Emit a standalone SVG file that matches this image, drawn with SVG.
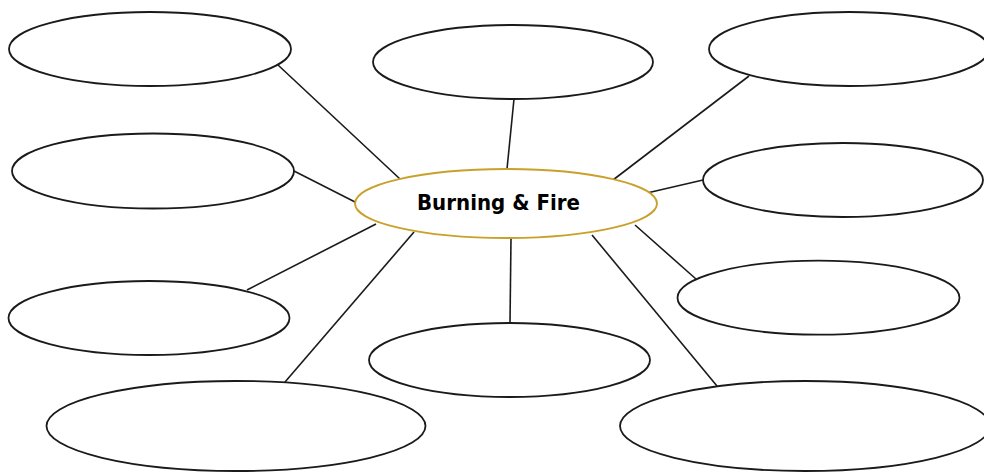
<svg xmlns="http://www.w3.org/2000/svg" width="984" height="472" viewBox="0 0 984 472">
<style>
.n{fill:#fff;stroke:#1a1a1a;stroke-width:1.8}
.c{fill:#fff;stroke:#c9a12a;stroke-width:1.9}
.l{stroke:#1a1a1a;stroke-width:1.6;fill:none}
.t{font-family:"DejaVu Sans",Verdana,sans-serif;font-weight:bold;font-size:21px;fill:#000}
</style>
<rect width="984" height="472" fill="#fff"/>
<g id="connectors">
<line class="l" x1="278" y1="65" x2="400" y2="179"/>
<line class="l" x1="514" y1="99" x2="507" y2="169"/>
<line class="l" x1="749" y1="76" x2="613" y2="180"/>
<line class="l" x1="294" y1="171" x2="357" y2="203"/>
<line class="l" x1="703" y1="180" x2="647" y2="193"/>
<line class="l" x1="247" y1="290" x2="376" y2="224"/>
<line class="l" x1="285" y1="382" x2="414" y2="232"/>
<line class="l" x1="511" y1="238" x2="510" y2="323"/>
<line class="l" x1="592" y1="235" x2="717" y2="386"/>
<line class="l" x1="635" y1="225" x2="696" y2="279"/>
</g>
<g id="n-top-left"><ellipse class="n" cx="150" cy="49" rx="141" ry="37"/></g>
<g id="n-top-center"><ellipse class="n" cx="513" cy="62" rx="140" ry="37"/></g>
<g id="n-top-right"><ellipse class="n" cx="849" cy="49" rx="140" ry="37"/></g>
<g id="n-mid-left"><ellipse class="n" cx="153" cy="171" rx="141" ry="37.5"/></g>
<g id="n-mid-right"><ellipse class="n" cx="843" cy="180" rx="140" ry="37"/></g>
<g id="n-low-left"><ellipse class="n" cx="149" cy="318" rx="140.5" ry="37"/></g>
<g id="n-low-right"><ellipse class="n" cx="818.5" cy="297.7" rx="141" ry="37"/></g>
<g id="n-bottom-center"><ellipse class="n" cx="509.5" cy="360" rx="140.5" ry="37"/></g>
<g id="n-bottom-left"><ellipse class="n" cx="236" cy="426" rx="189.5" ry="45"/></g>
<g id="n-bottom-right"><ellipse class="n" cx="805" cy="426" rx="185" ry="45"/></g>
<g id="center">
<ellipse class="c" cx="506" cy="203.5" rx="151" ry="34.5"/>
<text class="t" x="498.5" y="209.5" text-anchor="middle" textLength="163" lengthAdjust="spacingAndGlyphs">Burning &amp; Fire</text>
</g>
</svg>
